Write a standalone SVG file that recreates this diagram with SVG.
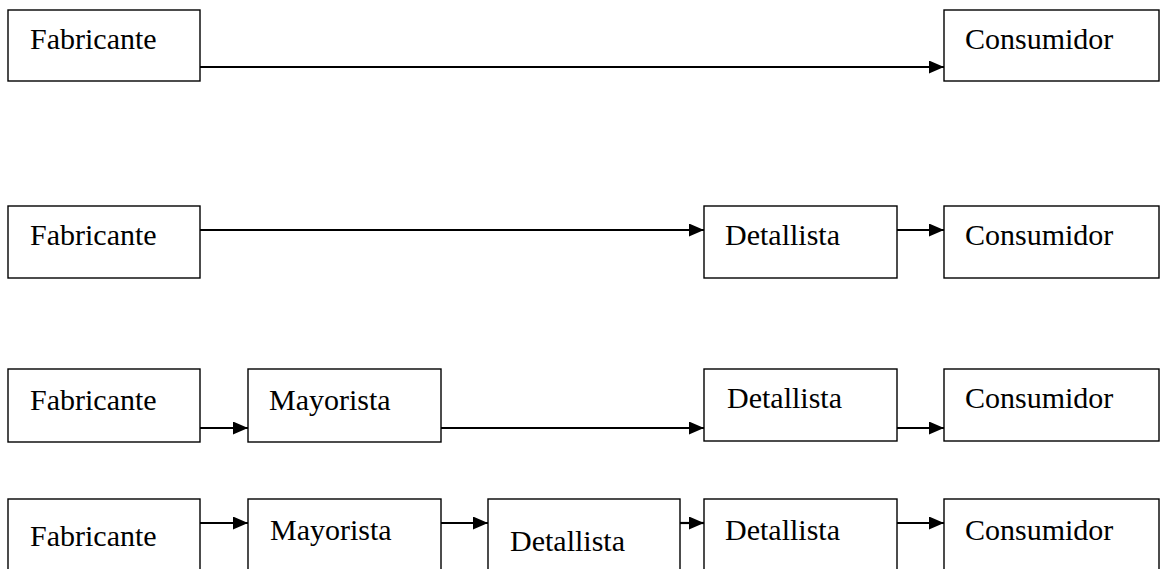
<svg xmlns="http://www.w3.org/2000/svg" width="1160" height="569" viewBox="0 0 1160 569">
<defs>
<marker id="arr" markerUnits="userSpaceOnUse" markerWidth="16" markerHeight="14" refX="15" refY="6.5" orient="auto">
<path d="M0,0 L15,6.5 L0,13 z" fill="#000"/>
</marker>
<style>
.box{fill:#fff;stroke:#000;stroke-width:1.4}
.lbl{font-family:"Liberation Serif","Times New Roman",serif;font-size:30px;fill:#000}
.con{stroke:#000;stroke-width:2.2;fill:none;marker-end:url(#arr)}
</style>
</defs>
<rect width="1160" height="569" fill="#fff"/>
<!-- Row 1 -->
<g id="r1-fabricante"><rect class="box" x="8" y="10" width="192" height="71"/><text class="lbl" x="30" y="49">Fabricante</text></g>
<g id="r1-consumidor"><rect class="box" x="944" y="10" width="215" height="71"/><text class="lbl" x="965" y="49">Consumidor</text></g>
<!-- Row 2 -->
<g id="r2-fabricante"><rect class="box" x="8" y="206" width="192" height="72"/><text class="lbl" x="30" y="245">Fabricante</text></g>
<g id="r2-detallista"><rect class="box" x="704" y="206" width="193" height="72"/><text class="lbl" x="725" y="245">Detallista</text></g>
<g id="r2-consumidor"><rect class="box" x="944" y="206" width="215" height="72"/><text class="lbl" x="965" y="245">Consumidor</text></g>
<!-- Row 3 -->
<g id="r3-fabricante"><rect class="box" x="8" y="369" width="192" height="73"/><text class="lbl" x="30" y="410">Fabricante</text></g>
<g id="r3-mayorista"><rect class="box" x="248" y="369" width="193" height="73"/><text class="lbl" x="269" y="410">Mayorista</text></g>
<g id="r3-detallista"><rect class="box" x="704" y="369" width="193" height="72"/><text class="lbl" x="727" y="408">Detallista</text></g>
<g id="r3-consumidor"><rect class="box" x="944" y="369" width="215" height="72"/><text class="lbl" x="965" y="408">Consumidor</text></g>
<!-- Row 4 -->
<g id="r4-fabricante"><rect class="box" x="8" y="499" width="192" height="80"/><text class="lbl" x="30" y="546">Fabricante</text></g>
<g id="r4-mayorista"><rect class="box" x="248" y="499" width="193" height="80"/><text class="lbl" x="270" y="540">Mayorista</text></g>
<g id="r4-detallista1"><rect class="box" x="488" y="499" width="192" height="80"/><text class="lbl" x="510" y="551">Detallista</text></g>
<g id="r4-detallista2"><rect class="box" x="704" y="499" width="193" height="80"/><text class="lbl" x="725" y="540">Detallista</text></g>
<g id="r4-consumidor"><rect class="box" x="944" y="499" width="215" height="80"/><text class="lbl" x="965" y="540">Consumidor</text></g>
<g id="connectors">
<line class="con" x1="200" y1="67" x2="944" y2="67"/>
<line class="con" x1="200" y1="230" x2="704" y2="230"/>
<line class="con" x1="897" y1="230" x2="944" y2="230"/>
<line class="con" x1="200" y1="428" x2="248" y2="428"/>
<line class="con" x1="441" y1="428" x2="704" y2="428"/>
<line class="con" x1="897" y1="428" x2="944" y2="428"/>
<line class="con" x1="200" y1="523" x2="248" y2="523"/>
<line class="con" x1="441" y1="523" x2="488" y2="523"/>
<line class="con" x1="680" y1="523" x2="704" y2="523"/>
<line class="con" x1="897" y1="523" x2="944" y2="523"/>
</g>
</svg>
